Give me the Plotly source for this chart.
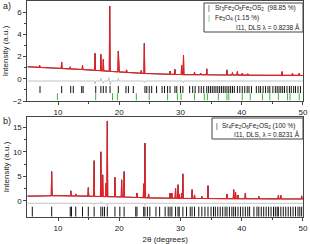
import numpy as np
import plotly.graph_objects as go

# ---------------- data ----------------
# panel a
a_base_x = [5, 10, 15, 20, 25, 30, 40, 50]
a_base_y = [1.08, 0.95, 0.80, 0.62, 0.45, 0.38, 0.33, 0.30]
a_peak_x = [7.0, 10.6, 12.0, 14.0, 16.05, 17.0, 17.4, 18.45, 19.85, 21.2, 23.6, 24.1,
            28.3, 29.1, 30.2, 30.5, 32.3, 33.3, 34.3, 37.6, 38.5, 39.3, 40.1, 41.0,
            46.6, 48.3, 49.4]
a_peak_top = [1.2, 1.5, 1.08, 1.2, 2.3, 2.2, 1.75, 6.55, 2.5, 0.8, 0.75, 3.2,
              0.7, 0.85, 1.2, 2.1, 0.6, 0.5, 0.9, 0.8, 0.55, 0.65, 0.5, 0.45,
              0.65, 0.5, 0.5]
a_diff_base = -0.2
a_diff_x = [16.05, 17.0, 17.4, 18.3, 18.55, 19.85, 24.1, 30.5]
a_diff_y = [-0.45, 0.05, -0.4, 0.1, -0.55, 0.05, -0.35, -0.35]
a_phase1_ticks = [7.06, 10.6, 12.07, 12.5, 13.87, 14.1, 16.16, 17.0, 17.4, 17.85, 18.5,
                  19.85, 21.1, 21.5, 22.3, 24.2, 24.5, 24.9, 25.3, 26.1, 27.0, 27.4,
                  27.9, 28.3, 29.1, 29.4, 30.0, 30.4, 31.5, 32.0, 32.4, 33.0, 33.4,
                  33.8, 34.3, 34.6, 34.9, 35.2, 35.5, 35.8, 36.1, 36.4, 36.7, 37.0,
                  37.3, 37.6, 37.9, 38.2, 38.5, 38.8, 39.3, 39.7, 40.1, 40.5, 40.9,
                  41.2, 41.6, 42.4, 42.8, 43.1, 43.5, 43.9, 44.3, 44.6, 45.1, 45.5,
                  45.8, 46.1, 46.4, 46.7, 47.0, 47.4, 47.8, 48.1, 48.5, 48.8, 49.2, 49.6]
a_phase2_ticks = [9.9, 16.15, 18.9, 19.7, 22.8, 24.9, 27.9, 29.5, 30.1, 32.3, 33.9,
                  34.4, 36.2, 37.6, 37.9, 40.1, 41.4, 43.4, 44.6, 46.0, 47.5, 47.9, 49.4]

# panel b
b_base_x = [5, 10, 15, 20, 25, 30, 40, 50]
b_base_y = [0.95, 1.05, 0.95, 0.8, 0.6, 0.5, 0.42, 0.38]
b_peak_x = [8.97, 12.1, 12.9, 14.95, 15.9, 17.0, 17.3, 17.85, 18.05, 19.3, 20.4, 20.8,
            22.9, 24.0, 24.2, 24.8, 28.3, 28.6, 29.2, 29.6, 29.8, 30.2, 30.4, 31.9,
            32.3, 33.5, 34.5, 37.6, 38.7, 39.0, 39.4, 40.6, 42.8, 46.0, 46.4, 49.8]
b_peak_top = [6.0, 2.05, 1.4, 2.7, 8.2, 10.0, 5.3, 3.6, 16.3, 4.8, 4.3, 6.0,
              1.6, 3.5, 11.8, 1.4, 1.6, 1.6, 2.6, 3.3, 1.4, 1.6, 5.5, 2.3,
              1.2, 0.9, 3.1, 1.4, 2.3, 1.8, 1.2, 1.6, 0.9, 1.1, 1.1, 1.0]
b_diff_base = -0.5
b_diff_x = [15.9, 17.0, 18.05, 20.8, 24.2, 30.4]
b_diff_y = [-0.8, -0.2, -1.0, -0.7, -0.9, -0.7]
b_phase1_ticks = [5.8, 8.97, 12.0, 12.2, 12.9, 14.0, 14.95, 15.9, 17.0, 17.3, 17.6, 18.05,
                  19.3, 20.1, 20.8, 22.7, 22.9, 24.0, 24.2, 24.6, 25.0, 26.0, 26.6, 27.5,
                  28.0, 28.3, 28.6, 29.2, 29.6, 29.8, 30.4, 31.0, 31.6, 31.9, 32.3, 33.0,
                  33.5, 34.0, 34.5, 35.0, 35.4, 35.7, 36.1, 36.5, 36.9, 37.3, 37.6, 38.0,
                  38.4, 38.7, 39.0, 39.4, 39.8, 40.2, 40.6, 41.0, 41.3, 42.0, 42.5, 42.8,
                  43.2, 43.6, 44.0, 44.4, 44.8, 45.2, 45.5, 45.8, 46.0, 46.4, 46.8, 47.2,
                  47.6, 48.0, 48.4, 48.8, 49.2, 49.5, 49.8]

x_ticks = [10, 20, 30, 40, 50]
a_y_ticks = [-2, 0, 2, 4, 6]
b_y_ticks = [0, 5, 10, 15]

RED = "#ec1c24"
GREEN = "#3cb83c"
GRAY = "#b4b4b4"
AX = "#444444"
FONT = "Liberation Sans, Arial, sans-serif"


def profile(bx, by, px, ptop, hw=0.07):
    xs = list(bx)
    ys = list(by)
    for p, t in zip(px, ptop):
        for xx in (p - hw, p + hw):
            xs.append(xx)
            ys.append(float(np.interp(xx, bx, by)))
        xs.append(p)
        ys.append(t)
    order = np.argsort(xs, kind="stable")
    return [xs[i] for i in order], [ys[i] for i in order]


def diff_profile(base, px, py, hw=0.12):
    xs = [5.0, 50.0]
    ys = [base, base]
    for p, v in zip(px, py):
        xs += [p - hw, p, p + hw]
        ys += [base, v, base]
    order = np.argsort(xs, kind="stable")
    return [xs[i] for i in order], [ys[i] for i in order]


fig = go.Figure()

for (bx, by, px, pt, db, dx, dy, xa, ya) in [
    (a_base_x, a_base_y, a_peak_x, a_peak_top, a_diff_base, a_diff_x, a_diff_y, "x", "y"),
    (b_base_x, b_base_y, b_peak_x, b_peak_top, b_diff_base, b_diff_x, b_diff_y, "x2", "y2"),
]:
    ox, oy = profile(bx, by, px, pt)
    fig.add_trace(go.Scatter(x=ox, y=oy, mode="lines", line=dict(color="#111111", width=0.8),
                             xaxis=xa, yaxis=ya, showlegend=False))
    fig.add_trace(go.Scatter(x=ox, y=oy, mode="lines", line=dict(color=RED, width=1.1),
                             xaxis=xa, yaxis=ya, showlegend=False))
    gx, gy = diff_profile(db, dx, dy)
    fig.add_trace(go.Scatter(x=gx, y=gy, mode="lines", line=dict(color=GRAY, width=0.8),
                             xaxis=xa, yaxis=ya, showlegend=False))

# reflection ticks
fig.add_trace(go.Scatter(x=a_phase1_ticks, y=[-0.97] * len(a_phase1_ticks), mode="markers",
                         marker=dict(symbol="line-ns", size=5, color="#111111",
                                     line=dict(color="#111111", width=1)),
                         xaxis="x", yaxis="y", showlegend=False))
fig.add_trace(go.Scatter(x=a_phase2_ticks, y=[-1.62] * len(a_phase2_ticks), mode="markers",
                         marker=dict(symbol="line-ns", size=5, color=GREEN,
                                     line=dict(color=GREEN, width=1)),
                         xaxis="x", yaxis="y", showlegend=False))
fig.add_trace(go.Scatter(x=b_phase1_ticks, y=[-2.2] * len(b_phase1_ticks), mode="markers",
                         marker=dict(symbol="line-ns", size=7, color="#111111",
                                     line=dict(color="#111111", width=1)),
                         xaxis="x2", yaxis="y2", showlegend=False))

W, H = 310, 244
xd = [27.4 / W, 303 / W]


def ydom(top, bot):
    return [1 - bot / H, 1 - top / H]


axis_common = dict(showline=True, linecolor=AX, linewidth=1, mirror=True, ticks="outside",
                   ticklen=3, tickcolor=AX, showgrid=False, zeroline=False, automargin=False,
                   tickfont=dict(size=8, color="#222222", family=FONT))

fig.update_layout(
    width=W, height=H, margin=dict(l=0, r=0, t=0, b=0),
    paper_bgcolor="white", plot_bgcolor="white",
    font=dict(family=FONT, size=8, color="#222222"),
    xaxis=dict(domain=xd, range=[5, 50.02], anchor="y", tickvals=x_ticks,
               minor=dict(tickvals=[15, 25, 35, 45], ticklen=2, ticks="outside", tickcolor=AX),
               **axis_common),
    yaxis=dict(domain=ydom(1, 101), range=[-2, 7], anchor="x", tickvals=a_y_ticks,
               minor=dict(tickvals=[-1, 1, 3, 5], ticklen=2, ticks="outside", tickcolor=AX),
               title=dict(text="Intensity (a.u.)", standoff=2, font=dict(size=8)),
               **axis_common),
    xaxis2=dict(domain=xd, range=[5, 50.02], anchor="y2", tickvals=x_ticks,
                minor=dict(tickvals=[15, 25, 35, 45], ticklen=2, ticks="outside", tickcolor=AX),
                title=dict(text="2θ (degrees)", standoff=4, font=dict(size=8)),
                **axis_common),
    yaxis2=dict(domain=ydom(117, 217), range=[-3.3, 17.1], anchor="x2", tickvals=b_y_ticks,
                minor=dict(tickvals=[2.5, 7.5, 12.5], ticklen=2, ticks="outside", tickcolor=AX),
                title=dict(text="Intensity (a.u.)", standoff=2, font=dict(size=8)),
                **axis_common),
)

# legend boxes
fig.add_shape(type="rect", xref="paper", yref="paper",
              x0=204 / W, x1=303 / W, y0=1 - 32 / H, y1=1 - 3 / H,
              line=dict(color=AX, width=1), fillcolor="white")
fig.add_shape(type="rect", xref="paper", yref="paper",
              x0=212 / W, x1=303 / W, y0=1 - 139 / H, y1=1 - 118 / H,
              line=dict(color=AX, width=1), fillcolor="white")


def txt(x, y, s, anchor="left", color="#222222", size=6.5):
    fig.add_annotation(x=x / W, y=1 - y / H, xref="paper", yref="paper", text=s,
                       showarrow=False, xanchor=anchor, yanchor="middle",
                       font=dict(size=size, color=color, family=FONT))


txt(206, 8, "|", color="#111111")
txt(213, 8, "Sr<sub>3</sub>Fe<sub>2</sub>O<sub>5</sub>Fe<sub>2</sub>OS<sub>2</sub>  (98.85 %)")
txt(206, 18, "|", color=GREEN)
txt(213, 18, "Fe<sub>3</sub>O<sub>4</sub> (1.15 %)")
txt(302, 27, "I11, DLS λ = 0.8238 Å", anchor="right")

txt(214, 126, "|", color="#111111")
txt(220, 126, "Sr<sub>4</sub>Fe<sub>2</sub>O<sub>6</sub>Fe<sub>2</sub>OS<sub>2</sub> (100 %)")
txt(302, 134, "I11, DLS, λ = 0.8231 Å", anchor="right")

txt(1, 6, "a)", size=9)
txt(1, 121, "b)", size=9)

fig.write_html("out.html", config={"displayModeBar": False},
               post_script="document.body.style.margin='0';")
